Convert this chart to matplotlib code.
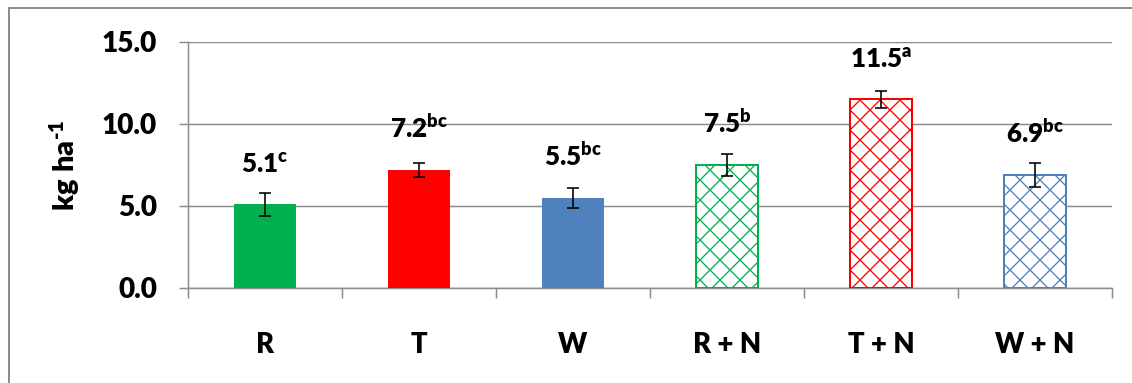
import matplotlib
matplotlib.use("Agg")
import matplotlib.pyplot as plt
from matplotlib.patches import Rectangle
import numpy as np

categories = ["R", "T", "W", "R + N", "T + N", "W + N"]
values = [5.1, 7.2, 5.5, 7.5, 11.5, 6.9]
errors = [0.72, 0.45, 0.6, 0.65, 0.52, 0.72]
letters = ["c", "bc", "bc", "b", "a", "bc"]
colors = ["#00B050", "#FF0000", "#4F81BD", "#00B050", "#FF0000", "#4F81BD"]
hatched = [False, False, False, True, True, True]
yticks = [0, 5, 10, 15]

plt.rcParams['font.family'] = ['Lato', 'DejaVu Sans']
plt.rcParams['mathtext.fontset'] = 'custom'
plt.rcParams['mathtext.rm'] = 'Lato'
plt.rcParams['mathtext.bf'] = 'Lato:heavy'
plt.rcParams['mathtext.it'] = 'Lato:italic'

DPI = 120
W, H = 1132, 383
fig = plt.figure(figsize=(W / DPI, H / DPI), dpi=DPI)
px = 72.0 / DPI  # points per pixel
plt.rcParams['hatch.linewidth'] = 1.3 * px

ax = fig.add_axes([188 / W, 1 - 288 / H, (1112 - 188) / W, (288 - 42) / H])
grey = "#8C8C8C"

x = np.arange(len(categories))
for i in range(len(categories)):
    if hatched[i]:
        ax.bar(x[i], values[i], width=0.4, facecolor="white", edgecolor=colors[i],
               hatch="xx", linewidth=2.0 * px, zorder=3)
    else:
        ax.bar(x[i], values[i], width=0.4, color=colors[i], zorder=3)
ax.errorbar(x, values, yerr=errors, fmt="none", ecolor="black",
            elinewidth=1.6 * px, capsize=6 * px, capthick=1.6 * px, zorder=4)

for i in range(len(categories)):
    ax.annotate(r"$\mathbf{%.1f^{%s}}$" % (values[i], letters[i]),
                xy=(x[i], values[i]), xytext=(0, 32 * px), textcoords="offset points",
                ha="center", va="baseline", fontsize=26 * px, zorder=5)

ax.set_xlim(-0.5, 5.5)
ax.set_ylim(0, 15)
ax.set_yticks(yticks)
ax.set_yticklabels(["%.1f" % v for v in yticks], fontsize=28 * px, fontweight="heavy")
ax.yaxis.grid(True, color=grey, linewidth=1.5 * px)
ax.set_axisbelow(True)
ax.tick_params(axis="y", length=9 * px, width=1.5 * px, color=grey, pad=22 * px)

ax.set_xticks(x)
ax.set_xticklabels(categories, fontsize=27.5 * px, fontweight="heavy")
ax.tick_params(axis="x", which="major", length=0, pad=44 * px)
ax.set_xticks(np.arange(-0.5, 6, 1.0), minor=True)
ax.tick_params(axis="x", which="minor", length=10 * px, width=1.5 * px, color=grey)

for s in ["top", "right"]:
    ax.spines[s].set_visible(False)
for s in ["left", "bottom"]:
    ax.spines[s].set_color(grey)
    ax.spines[s].set_linewidth(1.5 * px)

fig.text(65 / W, 1 - 165 / H, "$\\mathbf{kg\\ ha^{\u20101}}$", rotation=90,
         ha="center", va="center", fontsize=29 * px)

fig.add_artist(Rectangle((9 / W, -0.1), 1.2, (1 - 8 / H) + 0.1, transform=fig.transFigure,
                         fill=False, edgecolor=grey, linewidth=2 * px, clip_on=False))

fig.savefig("out.png", dpi=DPI)
